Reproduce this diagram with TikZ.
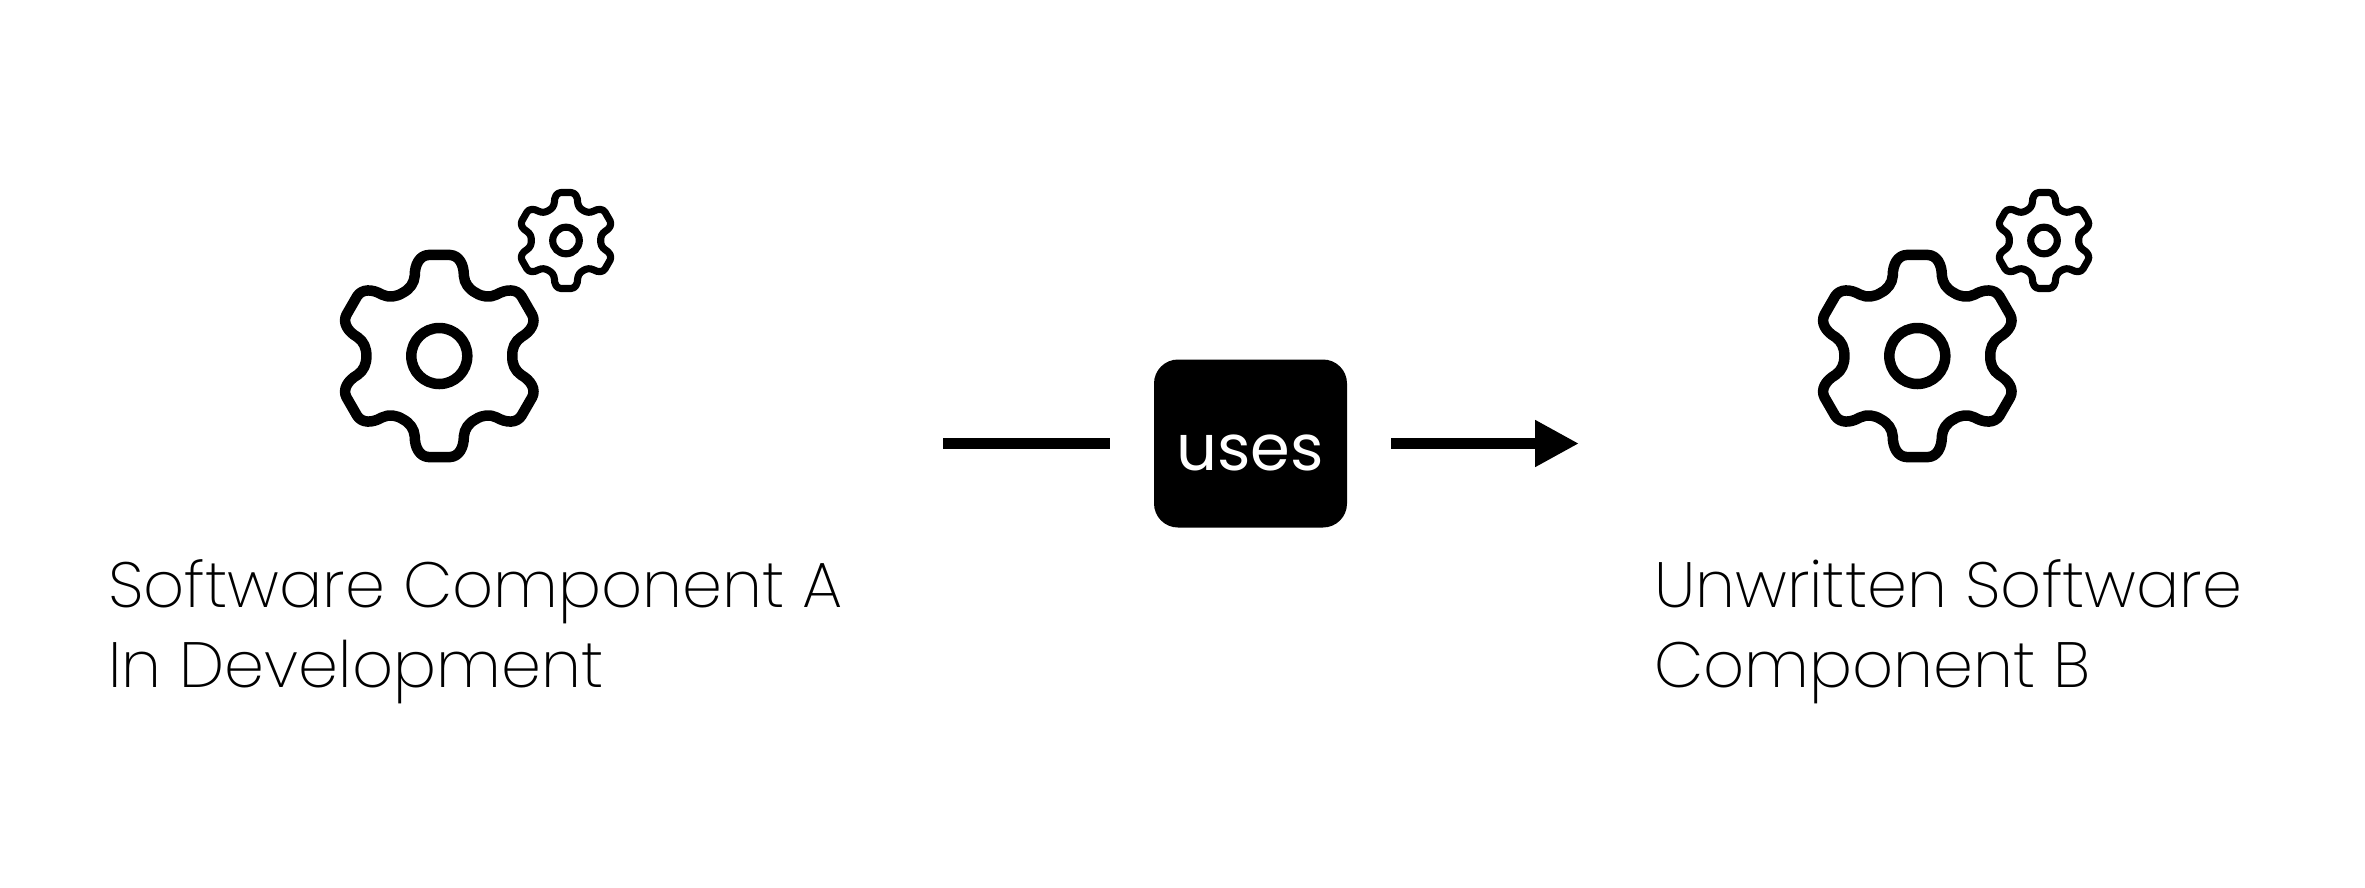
\documentclass[tikz,border=0pt]{standalone}
\usepackage{fontspec}
\setmainfont{Poppins}[UprightFont=* ExtraLight]
\newfontfamily\usesfont{Poppins}
\usetikzlibrary{arrows.meta}
\tikzset{
  x=1pt,y=-1pt,
  gearline/.style={draw=black,line join=round,fill=none},
  gear/.pic={
    \draw[gearline,line width=#1*10.5pt]
      (96:101.6)
      \foreach \a in {90,30,-30,-90,-150,-210}{
        -- (\a-6:101.6)
        .. controls (\a-11:102.5) and (\a-15:95) .. (\a-17:84)
        .. controls (\a-19:77) and (\a-24:73) .. (\a-30:73)
        .. controls (\a-36:73) and (\a-41:77) .. (\a-43:84)
        .. controls (\a-45:95) and (\a-49:102.5) .. (\a-54:101.6)
      } -- cycle;
    \draw[gearline,line width=#1*10.5pt] (0,0) circle[radius=28];
  },
  compbox/.style={fill=black,rounded corners=24pt,minimum width=193pt,minimum height=168pt,inner sep=0pt,text=white},
  useslabel/.style={inner sep=0pt,text=white,font=\usesfont\fontsize{64pt}{64pt}\selectfont},
  complabel/.style={anchor=north west,align=left,inner sep=0pt,font=\fontsize{64pt}{80pt}\selectfont},
  conn/.style={line width=11pt,draw=black}
}
\begin{document}
\begin{tikzpicture}
\useasboundingbox (0,0) rectangle (2365,887);
\pic at (439.3,356) [scale=1] {gear=1};
\pic at (566,240.5) [scale=.475] {gear=.68};
\pic at (1917.3,356) [scale=1] {gear=1};
\pic at (2044,240.5) [scale=.475] {gear=.68};
\node[compbox] (uses) at (1250.5,443.5) {};
\node[useslabel] (usesText) at (1250,453) {uses};
\coordinate (lineStart) at (943,443.5);
\coordinate (arrowEnd) at (1579,443.5);
\draw[conn,shorten >=44pt] (lineStart) -- (uses.west);
\draw[conn,shorten <=44pt,-{Triangle[length=44pt,width=44pt,sep=0pt]}] (uses.east) -- (arrowEnd);
\node[complabel] (labelA) at (108,559) {Software Component A\\In Development};
\node[complabel] (labelB) at (1654,559) {Unwritten Software\\Component B};
\end{tikzpicture}
\end{document}
